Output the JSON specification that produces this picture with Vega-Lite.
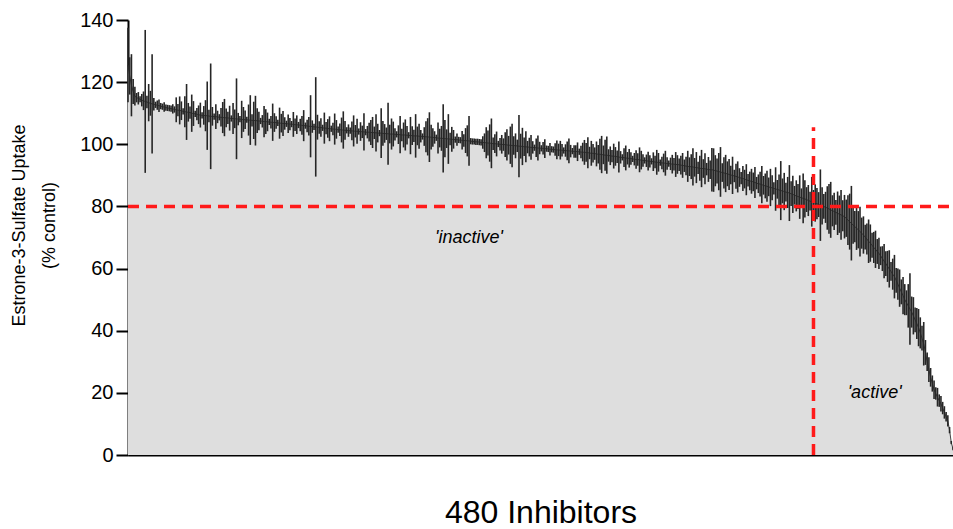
{
"$schema": "https://vega.github.io/schema/vega-lite/v6.json",
"width": 825, "height": 435,
"autosize": {"type": "none"},
"padding": {"left": 128, "top": 20, "right": 0, "bottom": 74},
"background": "white",
"config": {"view": {"stroke": null}, "font": "Liberation Sans"},
"data": {"values": [
{"i":1,"m":125.5,"e":12},{"i":2,"m":122.0,"e":6},{"i":3,"m":119.0,"e":10},{"i":4,"m":117.0,"e":4},{"i":5,"m":115.5,"e":3},{"i":6,"m":115.0,"e":1.5},{"i":7,"m":114.8,"e":2},{"i":8,"m":114.5,"e":1},{"i":9,"m":114.2,"e":2},{"i":10,"m":114.0,"e":3},
{"i":11,"m":113.8,"e":23},{"i":12,"m":113.6,"e":2},{"i":13,"m":113.4,"e":6},{"i":14,"m":113.2,"e":4},{"i":15,"m":113.0,"e":16},{"i":16,"m":112.9,"e":2},{"i":17,"m":112.7,"e":1},{"i":18,"m":112.6,"e":1.5},{"i":19,"m":112.4,"e":2},{"i":20,"m":112.3,"e":1},
{"i":21,"m":112.1,"e":1},{"i":22,"m":112.0,"e":1.5},{"i":23,"m":111.8,"e":1},{"i":24,"m":111.7,"e":1},{"i":25,"m":111.6,"e":1},{"i":26,"m":111.5,"e":1},{"i":27,"m":111.4,"e":1.5},{"i":28,"m":111.2,"e":1},{"i":29,"m":111.1,"e":4},{"i":30,"m":111.0,"e":2},
{"i":31,"m":110.9,"e":4.5},{"i":32,"m":110.8,"e":3},{"i":33,"m":110.6,"e":1},{"i":34,"m":110.5,"e":5},{"i":35,"m":110.4,"e":9},{"i":36,"m":110.3,"e":3},{"i":37,"m":110.2,"e":2},{"i":38,"m":110.0,"e":6},{"i":39,"m":109.9,"e":4},{"i":40,"m":109.8,"e":1},
{"i":41,"m":109.7,"e":2},{"i":42,"m":109.5,"e":3},{"i":43,"m":109.4,"e":4},{"i":44,"m":109.3,"e":1},{"i":45,"m":109.3,"e":3},{"i":46,"m":109.2,"e":5},{"i":47,"m":109.2,"e":11},{"i":48,"m":109.1,"e":2},{"i":49,"m":109.0,"e":17},{"i":50,"m":109.0,"e":3},
{"i":51,"m":108.9,"e":1},{"i":52,"m":108.9,"e":4},{"i":53,"m":108.8,"e":2},{"i":54,"m":108.7,"e":1},{"i":55,"m":108.7,"e":3},{"i":56,"m":108.6,"e":5},{"i":57,"m":108.6,"e":6},{"i":58,"m":108.5,"e":3},{"i":59,"m":108.5,"e":2},{"i":60,"m":108.4,"e":4},
{"i":61,"m":108.3,"e":1},{"i":62,"m":108.3,"e":5},{"i":63,"m":108.2,"e":3},{"i":64,"m":108.2,"e":13},{"i":65,"m":108.1,"e":2},{"i":66,"m":108.1,"e":1},{"i":67,"m":108.0,"e":6},{"i":68,"m":108.0,"e":4},{"i":69,"m":107.9,"e":3},{"i":70,"m":107.9,"e":1},
{"i":71,"m":107.8,"e":5},{"i":72,"m":107.8,"e":8},{"i":73,"m":107.7,"e":2},{"i":74,"m":107.7,"e":6},{"i":75,"m":107.6,"e":8},{"i":76,"m":107.6,"e":4},{"i":77,"m":107.5,"e":3},{"i":78,"m":107.5,"e":1},{"i":79,"m":107.4,"e":2},{"i":80,"m":107.3,"e":5},
{"i":81,"m":107.3,"e":4},{"i":82,"m":107.2,"e":3},{"i":83,"m":107.2,"e":1},{"i":84,"m":107.1,"e":2},{"i":85,"m":107.1,"e":6},{"i":86,"m":107.0,"e":3},{"i":87,"m":107.0,"e":2},{"i":88,"m":106.9,"e":1},{"i":89,"m":106.8,"e":5},{"i":90,"m":106.8,"e":3},
{"i":91,"m":106.7,"e":4},{"i":92,"m":106.7,"e":2},{"i":93,"m":106.6,"e":1},{"i":94,"m":106.6,"e":3},{"i":95,"m":106.5,"e":2},{"i":96,"m":106.5,"e":1},{"i":97,"m":106.4,"e":4},{"i":98,"m":106.3,"e":2},{"i":99,"m":106.3,"e":3},{"i":100,"m":106.2,"e":1},
{"i":101,"m":106.2,"e":2},{"i":102,"m":106.1,"e":3},{"i":103,"m":106.0,"e":5},{"i":104,"m":106.0,"e":1},{"i":105,"m":105.9,"e":2},{"i":106,"m":105.8,"e":3},{"i":107,"m":105.8,"e":10},{"i":108,"m":105.7,"e":2},{"i":109,"m":105.6,"e":1},{"i":110,"m":105.6,"e":16},
{"i":111,"m":105.5,"e":4},{"i":112,"m":105.4,"e":2},{"i":113,"m":105.4,"e":3},{"i":114,"m":105.3,"e":1},{"i":115,"m":105.2,"e":5},{"i":116,"m":105.2,"e":2},{"i":117,"m":105.1,"e":3},{"i":118,"m":105.0,"e":4},{"i":119,"m":105.0,"e":1},{"i":120,"m":104.9,"e":2},
{"i":121,"m":104.9,"e":5},{"i":122,"m":104.8,"e":3},{"i":123,"m":104.7,"e":1},{"i":124,"m":104.7,"e":2},{"i":125,"m":104.6,"e":4},{"i":126,"m":104.6,"e":6},{"i":127,"m":104.5,"e":3},{"i":128,"m":104.5,"e":1},{"i":129,"m":104.4,"e":2},{"i":130,"m":104.4,"e":1},
{"i":131,"m":104.3,"e":3},{"i":132,"m":104.3,"e":5},{"i":133,"m":104.2,"e":2},{"i":134,"m":104.2,"e":4},{"i":135,"m":104.1,"e":1},{"i":136,"m":104.1,"e":3},{"i":137,"m":104.0,"e":2},{"i":138,"m":104.0,"e":6},{"i":139,"m":103.9,"e":1},{"i":140,"m":103.9,"e":2},
{"i":141,"m":103.9,"e":3},{"i":142,"m":103.8,"e":4},{"i":143,"m":103.8,"e":5},{"i":144,"m":103.7,"e":2},{"i":145,"m":103.7,"e":6},{"i":146,"m":103.6,"e":3},{"i":147,"m":103.6,"e":1},{"i":148,"m":103.6,"e":8},{"i":149,"m":103.5,"e":4},{"i":150,"m":103.5,"e":3},
{"i":151,"m":103.4,"e":2},{"i":152,"m":103.4,"e":10},{"i":153,"m":103.3,"e":3},{"i":154,"m":103.3,"e":5},{"i":155,"m":103.3,"e":4},{"i":156,"m":103.2,"e":2},{"i":157,"m":103.2,"e":1},{"i":158,"m":103.1,"e":3},{"i":159,"m":103.1,"e":6},{"i":160,"m":103.0,"e":2},
{"i":161,"m":103.0,"e":4},{"i":162,"m":103.0,"e":5},{"i":163,"m":102.9,"e":3},{"i":164,"m":102.9,"e":1},{"i":165,"m":102.8,"e":6},{"i":166,"m":102.8,"e":3},{"i":167,"m":102.7,"e":2},{"i":168,"m":102.7,"e":7},{"i":169,"m":102.7,"e":3},{"i":170,"m":102.6,"e":4},
{"i":171,"m":102.6,"e":2},{"i":172,"m":102.5,"e":1},{"i":173,"m":102.5,"e":3},{"i":174,"m":102.4,"e":5},{"i":175,"m":102.4,"e":6},{"i":176,"m":102.3,"e":8},{"i":177,"m":102.3,"e":4},{"i":178,"m":102.2,"e":3},{"i":179,"m":102.2,"e":2},{"i":180,"m":102.1,"e":1},
{"i":181,"m":102.0,"e":5},{"i":182,"m":102.0,"e":3},{"i":183,"m":101.9,"e":4},{"i":184,"m":101.9,"e":11},{"i":185,"m":101.8,"e":6},{"i":186,"m":101.8,"e":3},{"i":187,"m":101.7,"e":8},{"i":188,"m":101.7,"e":2},{"i":189,"m":101.6,"e":4},{"i":190,"m":101.6,"e":3},
{"i":191,"m":101.5,"e":1},{"i":192,"m":101.5,"e":2},{"i":193,"m":101.4,"e":1},{"i":194,"m":101.3,"e":1},{"i":195,"m":101.3,"e":3},{"i":196,"m":101.2,"e":2},{"i":197,"m":101.2,"e":4},{"i":198,"m":101.1,"e":5},{"i":199,"m":101.1,"e":8},{"i":200,"m":101.0,"e":1},
{"i":201,"m":100.9,"e":1},{"i":202,"m":100.9,"e":1},{"i":203,"m":100.8,"e":1},{"i":204,"m":100.8,"e":1},{"i":205,"m":100.7,"e":1},{"i":206,"m":100.6,"e":1},{"i":207,"m":100.6,"e":2},{"i":208,"m":100.5,"e":3},{"i":209,"m":100.5,"e":5},{"i":210,"m":100.4,"e":4},
{"i":211,"m":100.4,"e":6},{"i":212,"m":100.3,"e":8},{"i":213,"m":100.2,"e":2},{"i":214,"m":100.2,"e":3},{"i":215,"m":100.1,"e":4},{"i":216,"m":100.1,"e":1},{"i":217,"m":100.0,"e":2},{"i":218,"m":100.0,"e":3},{"i":219,"m":99.9,"e":2},{"i":220,"m":99.9,"e":4},
{"i":221,"m":99.8,"e":5},{"i":222,"m":99.7,"e":3},{"i":223,"m":99.7,"e":6},{"i":224,"m":99.6,"e":7},{"i":225,"m":99.6,"e":3},{"i":226,"m":99.5,"e":4},{"i":227,"m":99.5,"e":2},{"i":228,"m":99.4,"e":10},{"i":229,"m":99.4,"e":4},{"i":230,"m":99.3,"e":6},
{"i":231,"m":99.2,"e":3},{"i":232,"m":99.2,"e":5},{"i":233,"m":99.1,"e":2},{"i":234,"m":99.1,"e":3},{"i":235,"m":99.0,"e":4},{"i":236,"m":99.0,"e":2},{"i":237,"m":98.9,"e":1},{"i":238,"m":98.9,"e":3},{"i":239,"m":98.8,"e":4},{"i":240,"m":98.8,"e":2},
{"i":241,"m":98.7,"e":1},{"i":242,"m":98.7,"e":2},{"i":243,"m":98.6,"e":3},{"i":244,"m":98.6,"e":1},{"i":245,"m":98.5,"e":1},{"i":246,"m":98.4,"e":2},{"i":247,"m":98.4,"e":1},{"i":248,"m":98.3,"e":1},{"i":249,"m":98.3,"e":2},{"i":250,"m":98.2,"e":3},
{"i":251,"m":98.2,"e":2},{"i":252,"m":98.1,"e":3},{"i":253,"m":98.1,"e":2},{"i":254,"m":98.0,"e":1},{"i":255,"m":98.0,"e":2},{"i":256,"m":97.9,"e":3},{"i":257,"m":97.9,"e":4},{"i":258,"m":97.8,"e":2},{"i":259,"m":97.8,"e":1},{"i":260,"m":97.7,"e":2},
{"i":261,"m":97.7,"e":2},{"i":262,"m":97.6,"e":3},{"i":263,"m":97.6,"e":1},{"i":264,"m":97.5,"e":2},{"i":265,"m":97.5,"e":3},{"i":266,"m":97.4,"e":4},{"i":267,"m":97.4,"e":3},{"i":268,"m":97.3,"e":5},{"i":269,"m":97.2,"e":2},{"i":270,"m":97.1,"e":4},
{"i":271,"m":97.1,"e":3},{"i":272,"m":97.0,"e":2},{"i":273,"m":96.9,"e":4},{"i":274,"m":96.8,"e":3},{"i":275,"m":96.8,"e":5},{"i":276,"m":96.7,"e":6},{"i":277,"m":96.6,"e":3},{"i":278,"m":96.5,"e":5},{"i":279,"m":96.5,"e":6},{"i":280,"m":96.4,"e":2},
{"i":281,"m":96.3,"e":3},{"i":282,"m":96.2,"e":2},{"i":283,"m":96.2,"e":4},{"i":284,"m":96.1,"e":3},{"i":285,"m":96.0,"e":2},{"i":286,"m":95.9,"e":5},{"i":287,"m":95.8,"e":2},{"i":288,"m":95.8,"e":1},{"i":289,"m":95.7,"e":3},{"i":290,"m":95.6,"e":4},
{"i":291,"m":95.5,"e":2},{"i":292,"m":95.5,"e":3},{"i":293,"m":95.4,"e":2},{"i":294,"m":95.3,"e":1},{"i":295,"m":95.2,"e":2},{"i":296,"m":95.1,"e":3},{"i":297,"m":95.1,"e":2},{"i":298,"m":95.0,"e":4},{"i":299,"m":94.9,"e":3},{"i":300,"m":94.8,"e":2},
{"i":301,"m":94.8,"e":1},{"i":302,"m":94.7,"e":2},{"i":303,"m":94.6,"e":3},{"i":304,"m":94.5,"e":2},{"i":305,"m":94.5,"e":1},{"i":306,"m":94.4,"e":3},{"i":307,"m":94.3,"e":2},{"i":308,"m":94.2,"e":4},{"i":309,"m":94.2,"e":3},{"i":310,"m":94.1,"e":1},
{"i":311,"m":94.0,"e":2},{"i":312,"m":94.0,"e":3},{"i":313,"m":93.9,"e":4},{"i":314,"m":93.8,"e":2},{"i":315,"m":93.8,"e":1},{"i":316,"m":93.7,"e":2},{"i":317,"m":93.6,"e":3},{"i":318,"m":93.6,"e":2},{"i":319,"m":93.5,"e":4},{"i":320,"m":93.5,"e":3},
{"i":321,"m":93.4,"e":2},{"i":322,"m":93.3,"e":3},{"i":323,"m":93.2,"e":4},{"i":324,"m":93.1,"e":2},{"i":325,"m":93.0,"e":3},{"i":326,"m":92.9,"e":5},{"i":327,"m":92.8,"e":3},{"i":328,"m":92.8,"e":4},{"i":329,"m":92.7,"e":6},{"i":330,"m":92.6,"e":3},
{"i":331,"m":92.5,"e":5},{"i":332,"m":92.4,"e":2},{"i":333,"m":92.3,"e":4},{"i":334,"m":92.2,"e":6},{"i":335,"m":92.2,"e":3},{"i":336,"m":92.1,"e":5},{"i":337,"m":92.0,"e":2},{"i":338,"m":91.9,"e":4},{"i":339,"m":91.8,"e":3},{"i":340,"m":91.8,"e":7},
{"i":341,"m":91.7,"e":7},{"i":342,"m":91.5,"e":5},{"i":343,"m":91.4,"e":4},{"i":344,"m":91.2,"e":6},{"i":345,"m":91.1,"e":8},{"i":346,"m":90.9,"e":3},{"i":347,"m":90.8,"e":5},{"i":348,"m":90.6,"e":6},{"i":349,"m":90.5,"e":4},{"i":350,"m":90.3,"e":5},
{"i":351,"m":90.1,"e":3},{"i":352,"m":90.0,"e":6},{"i":353,"m":89.8,"e":2},{"i":354,"m":89.7,"e":4},{"i":355,"m":89.5,"e":5},{"i":356,"m":89.3,"e":3},{"i":357,"m":89.1,"e":2},{"i":358,"m":89.0,"e":4},{"i":359,"m":88.8,"e":3},{"i":360,"m":88.6,"e":5},
{"i":361,"m":88.4,"e":2},{"i":362,"m":88.2,"e":3},{"i":363,"m":88.1,"e":4},{"i":364,"m":87.9,"e":3},{"i":365,"m":87.7,"e":5},{"i":366,"m":87.5,"e":2},{"i":367,"m":87.3,"e":3},{"i":368,"m":87.2,"e":4},{"i":369,"m":87.0,"e":6},{"i":370,"m":86.8,"e":3},
{"i":371,"m":86.6,"e":4},{"i":372,"m":86.5,"e":5},{"i":373,"m":86.3,"e":3},{"i":374,"m":86.1,"e":6},{"i":375,"m":86.0,"e":4},{"i":376,"m":85.8,"e":2},{"i":377,"m":85.6,"e":7},{"i":378,"m":85.5,"e":3},{"i":379,"m":85.3,"e":5},{"i":380,"m":85.1,"e":9.5},
{"i":381,"m":85.0,"e":4},{"i":382,"m":84.8,"e":6},{"i":383,"m":84.6,"e":3},{"i":384,"m":84.5,"e":5},{"i":385,"m":84.3,"e":9},{"i":386,"m":84.1,"e":4},{"i":387,"m":83.9,"e":6},{"i":388,"m":83.6,"e":3},{"i":389,"m":83.4,"e":5},{"i":390,"m":83.2,"e":4},
{"i":391,"m":83.0,"e":7},{"i":392,"m":82.8,"e":3},{"i":393,"m":82.6,"e":8},{"i":394,"m":82.4,"e":6},{"i":395,"m":82.2,"e":4},{"i":396,"m":81.9,"e":5},{"i":397,"m":81.7,"e":3},{"i":398,"m":81.5,"e":8},{"i":399,"m":81.3,"e":4},{"i":400,"m":81.1,"e":6},
{"i":401,"m":80.9,"e":5},{"i":402,"m":80.6,"e":4},{"i":403,"m":80.4,"e":11.5},{"i":404,"m":80.2,"e":6},{"i":405,"m":80.0,"e":4},{"i":406,"m":79.7,"e":5},{"i":407,"m":79.5,"e":7},{"i":408,"m":79.2,"e":8},{"i":409,"m":78.9,"e":9},{"i":410,"m":78.6,"e":5},
{"i":411,"m":78.4,"e":6},{"i":412,"m":78.1,"e":4},{"i":413,"m":77.8,"e":7},{"i":414,"m":77.5,"e":6},{"i":415,"m":77.3,"e":8},{"i":416,"m":77.0,"e":5},{"i":417,"m":76.7,"e":7},{"i":418,"m":76.2,"e":6},{"i":419,"m":75.6,"e":8},{"i":420,"m":75.1,"e":9},
{"i":421,"m":74.6,"e":12},{"i":422,"m":74.0,"e":6},{"i":423,"m":73.5,"e":5},{"i":424,"m":73.0,"e":7},{"i":425,"m":72.5,"e":6},{"i":426,"m":71.9,"e":8},{"i":427,"m":71.4,"e":5},{"i":428,"m":70.8,"e":6},{"i":429,"m":70.1,"e":4},{"i":430,"m":69.5,"e":5},
{"i":431,"m":68.8,"e":7},{"i":432,"m":68.2,"e":6},{"i":433,"m":67.5,"e":4},{"i":434,"m":66.8,"e":5},{"i":435,"m":66.2,"e":6},{"i":436,"m":65.5,"e":4},{"i":437,"m":64.9,"e":5},{"i":438,"m":64.1,"e":3},{"i":439,"m":63.2,"e":4},{"i":440,"m":62.4,"e":5.5},
{"i":441,"m":61.6,"e":4},{"i":442,"m":60.7,"e":5},{"i":443,"m":59.9,"e":6},{"i":444,"m":59.1,"e":3},{"i":445,"m":58.2,"e":5},{"i":446,"m":57.4,"e":7},{"i":447,"m":56.2,"e":4},{"i":448,"m":55.0,"e":5},{"i":449,"m":53.7,"e":6},{"i":450,"m":52.5,"e":4},
{"i":451,"m":51.3,"e":6},{"i":452,"m":50.0,"e":5},{"i":453,"m":49.0,"e":4},{"i":454,"m":48.0,"e":7},{"i":455,"m":47.0,"e":11.5},{"i":456,"m":46.0,"e":5},{"i":457,"m":44.8,"e":6},{"i":458,"m":43.5,"e":4},{"i":459,"m":42.3,"e":5},{"i":460,"m":41.0,"e":6},
{"i":461,"m":39.3,"e":5},{"i":462,"m":37.6,"e":4},{"i":463,"m":35.8,"e":7},{"i":464,"m":33.0,"e":4},{"i":465,"m":30.0,"e":3},{"i":466,"m":27.5,"e":4},{"i":467,"m":25.0,"e":3},{"i":468,"m":23.0,"e":2.6},{"i":469,"m":21.0,"e":3},{"i":470,"m":19.8,"e":2},
{"i":471,"m":18.6,"e":3},{"i":472,"m":17.5,"e":2},{"i":473,"m":16.5,"e":2.5},{"i":474,"m":15.1,"e":2},{"i":475,"m":13.7,"e":2},{"i":476,"m":12.3,"e":1.5},{"i":477,"m":11.0,"e":1.8},{"i":478,"m":8.0,"e":1},{"i":479,"m":4.0,"e":0.5},{"i":480,"m":2.0,"e":0.5}
]},
"encoding": {
  "x": {"field": "i", "type": "quantitative", "scale": {"domain": [1, 480], "nice": false, "zero": false},
        "axis": {"labels": false, "ticks": false, "grid": false, "domainColor": "#000000", "domainWidth": 2,
                 "titleFontSize": 32, "titleFontWeight": "normal", "titleColor": "#000000",
                 "titleFont": "Liberation Sans", "titleY": 67, "titleBaseline": "alphabetic"},
        "title": "480 Inhibitors"},
  "y": {"field": "m", "type": "quantitative", "scale": {"domain": [0, 140], "nice": false},
        "axis": {"values": [0, 20, 40, 60, 80, 100, 120, 140], "grid": false, "domainColor": "#000000", "domainWidth": 2,
                 "tickColor": "#000000", "tickWidth": 2, "tickSize": 12, "labelFontSize": 20, "labelColor": "#000000",
                 "labelPadding": 3, "labelFont": "Liberation Sans",
                 "titleFontSize": 18, "titleFontWeight": "normal",
                 "titleColor": "#000000", "titleFont": "Liberation Sans", "titleLineHeight": 30,
                 "titleAngle": -90, "titleX": -118, "titleY": 205, "titleBaseline": "top", "titleAlign": "center"},
        "title": ["Estrone-3-Sulfate Uptake", "(% control)"]}
},
"layer": [
{"mark": {"type": "area", "color": "#dedede", "interpolate": "linear"}},
{"mark": {"type": "line", "color": "#444444", "strokeWidth": 1}},
{"mark": {"type": "errorbar", "ticks": false, "color": "#262626", "thickness": 1.6},
 "encoding": {"yError": {"field": "e"}}},
{"data": {"values": [{"i": 1, "m": 80}, {"i": 480, "m": 80}]},
 "mark": {"type": "line", "color": "#ff1a1a", "strokeWidth": 3.5, "strokeDash": [11, 7]}},
{"data": {"values": [{"i": 399, "m": 0, "m2": 105.5}]},
 "mark": {"type": "rule", "color": "#ff1a1a", "strokeWidth": 3.5, "strokeDash": [11, 7]},
 "encoding": {"y2": {"field": "m2"}}},
{"data": {"values": [{"t": "'inactive'", "i": 199, "m": 70}, {"t": "'active'", "i": 434.5, "m": 20}]},
 "mark": {"type": "text", "fontSize": 18, "fontStyle": "italic", "font": "Liberation Sans", "color": "#000000", "baseline": "middle", "align": "center"},
 "encoding": {"text": {"field": "t"}}}
]
}
